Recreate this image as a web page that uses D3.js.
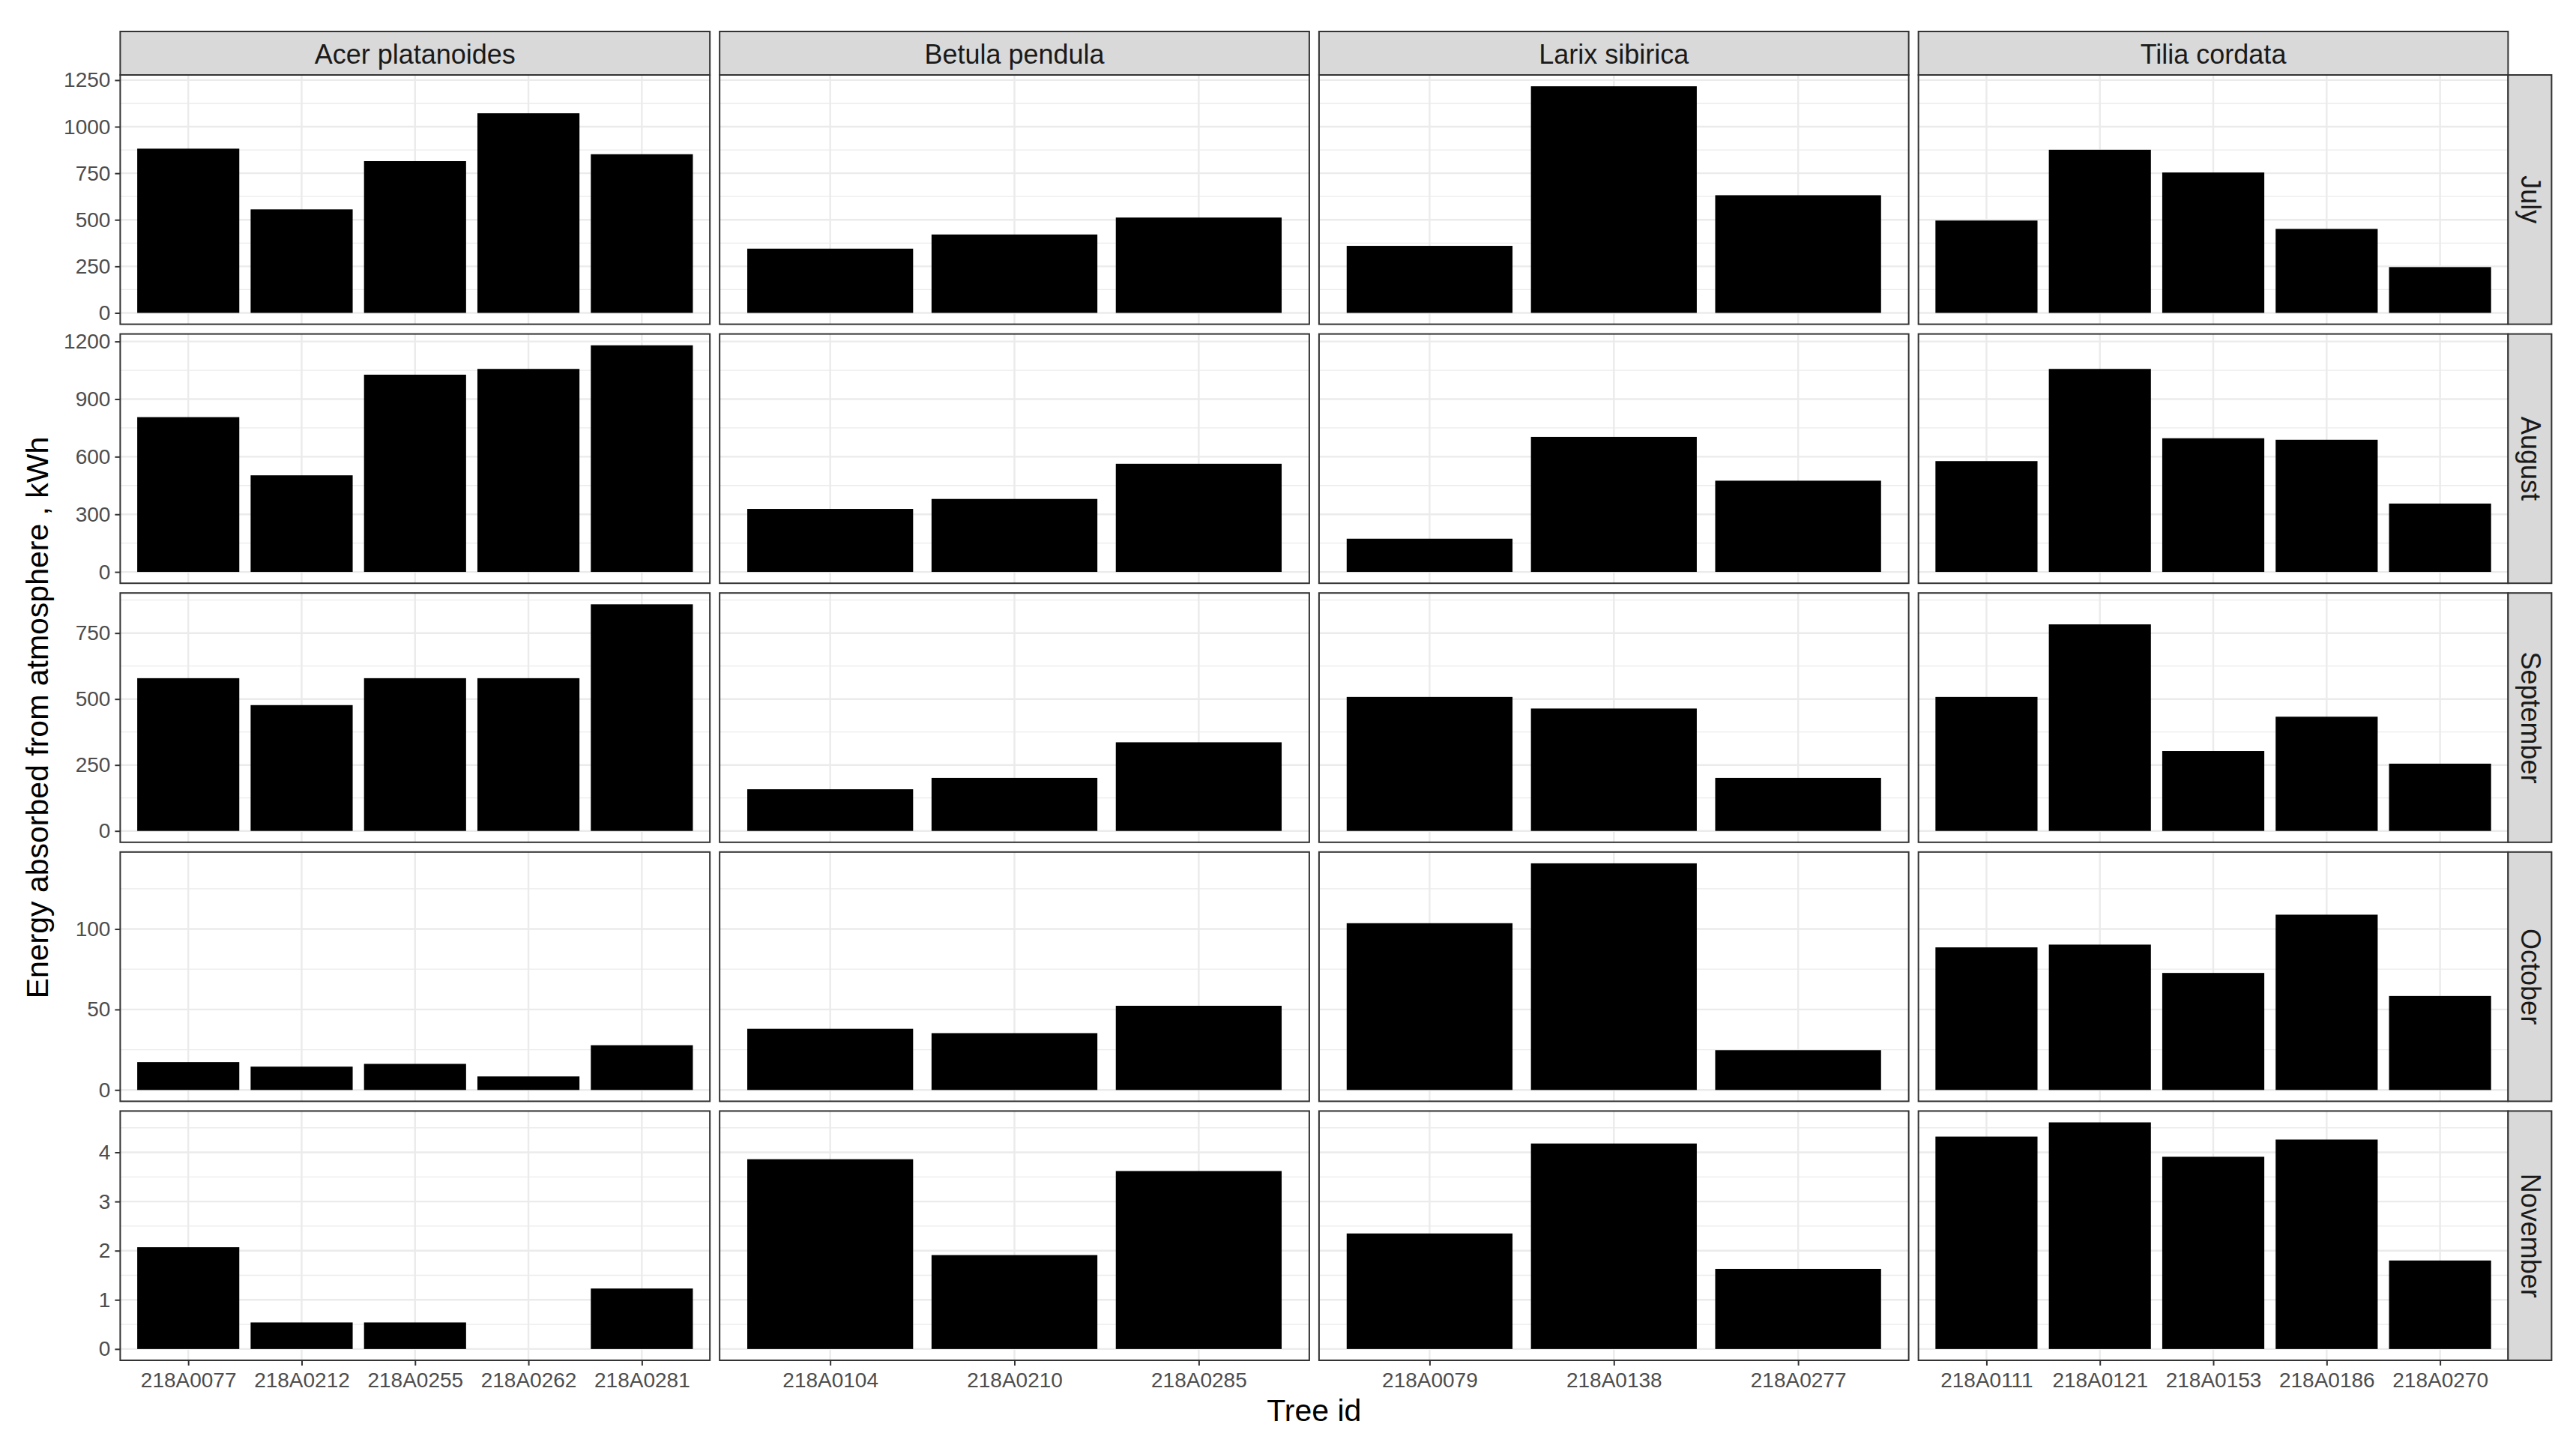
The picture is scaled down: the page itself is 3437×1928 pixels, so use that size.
<!DOCTYPE html>
<html>
<head>
<meta charset="utf-8">
<script src="https://cdn.jsdelivr.net/npm/d3@7"></script>
<style>
  html, body { margin: 0; padding: 0; background: #ffffff; }
  svg { display: block; font-family: "Liberation Sans", Arial, Helvetica, sans-serif; }
</style>
</head>
<body>
<svg id="chart" width="3437" height="1928"></svg>
<script>
// ---------------- DATA ----------------
const species = ["Acer platanoides", "Betula pendula", "Larix sibirica", "Tilia cordata"];
const months = ["July", "August", "September", "October", "November"];

const acerIds   = ["218A0077", "218A0212", "218A0255", "218A0262", "218A0281"];
const betulaIds = ["218A0104", "218A0210", "218A0285"];
const larixIds  = ["218A0079", "218A0138", "218A0277"];
const tiliaIds  = ["218A0111", "218A0121", "218A0153", "218A0186", "218A0270"];

// rows = months (July..November), columns = tree ids of the species
const acerValues = [
  [882, 556, 815, 1072, 852],
  [806, 503, 1027, 1057, 1180],
  [579, 477, 579, 579, 859],
  [17.3, 14.5, 16.2, 8.4, 27.8],
  [2.07, 0.54, 0.54, 0, 1.23]
];
const betulaValues = [
  [345, 421, 512],
  [328, 380, 563],
  [158, 201, 336],
  [38, 35.3, 52.3],
  [3.86, 1.91, 3.62]
];
const larixValues = [
  [360, 1217, 632],
  [173, 703, 475],
  [508, 464, 201],
  [103.6, 140.8, 24.7],
  [2.35, 4.18, 1.63]
];
const tiliaValues = [
  [496, 876, 754, 451, 246],
  [577, 1057, 696, 688, 356],
  [508, 783, 303, 433, 255],
  [88.6, 90.3, 72.7, 108.9, 58.4],
  [4.32, 4.61, 3.91, 4.26, 1.80]
];

const julyTicks      = [0, 250, 500, 750, 1000, 1250];
const augustTicks    = [0, 300, 600, 900, 1200];
const septemberTicks = [0, 250, 500, 750];
const octoberTicks   = [0, 50, 100];
const novemberTicks  = [0, 1, 2, 3, 4];

const xTitle = "Tree id";
const yTitle = "Energy absorbed from atmosphere , kWh";

// ---------------- LAYOUT ----------------
const idsBySpecies = [acerIds, betulaIds, larixIds, tiliaIds];
const valuesBySpecies = [acerValues, betulaValues, larixValues, tiliaValues];
const ticksByMonth = [julyTicks, augustTicks, septemberTicks, octoberTicks, novemberTicks];

const plotLeft = 160.4, plotRight = 3346.4, gapX = 13;
const plotTop = 100, plotBottom = 1815, gapY = 13;
const stripSize = 58;
const panelW = (plotRight - plotLeft - 3 * gapX) / 4;
const panelH = (plotBottom - plotTop - 4 * gapY) / 5;

const tickFont = 28, stripFont = 36, titleFont = 41;
const borderCol = "#333333", gridCol = "#EBEBEB";

const svg = d3.select("#chart");
svg.append("rect").attr("width", 3437).attr("height", 1928).attr("fill", "#ffffff");

// y scales per row (shared across columns, free between rows), ggplot 5% expansion
const yScales = months.map((m, r) => {
  const M = d3.max(valuesBySpecies, vals => d3.max(vals[r]));
  return d3.scaleLinear().domain([-0.05 * M, 1.05 * M]).range([panelH, 0]);
});

species.forEach((sp, c) => {
  const x0 = plotLeft + c * (panelW + gapX);
  const ids = idsBySpecies[c];
  const xs = d3.scalePoint().domain(ids).range([0, panelW]).padding(0.6);
  const bw = xs.step() * 0.9;

  // top strip
  const strip = svg.append("g").attr("transform", `translate(${x0},${plotTop - stripSize})`);
  strip.append("rect").attr("width", panelW).attr("height", stripSize)
    .attr("fill", "#D9D9D9").attr("stroke", borderCol).attr("stroke-width", 2);
  strip.append("text").attr("x", panelW / 2).attr("y", stripSize / 2 + 1)
    .attr("text-anchor", "middle").attr("dominant-baseline", "central")
    .attr("font-size", stripFont).attr("fill", "#1A1A1A").text(sp);

  months.forEach((mo, r) => {
    const y0 = plotTop + r * (panelH + gapY);
    const ys = yScales[r];
    const ticks = ticksByMonth[r];
    const step = ticks[1] - ticks[0];
    const [d0, d1] = ys.domain();
    const minors = d3.range(ticks[0] - step / 2, d1, step).filter(v => v > d0 && v < d1);

    const g = svg.append("g").attr("transform", `translate(${x0},${y0})`);
    g.append("rect").attr("width", panelW).attr("height", panelH).attr("fill", "#ffffff");

    // grid
    g.selectAll(".minor").data(minors).enter().append("line")
      .attr("x1", 0).attr("x2", panelW).attr("y1", d => ys(d)).attr("y2", d => ys(d))
      .attr("stroke", gridCol).attr("stroke-width", 1.3);
    g.selectAll(".majorY").data(ticks).enter().append("line")
      .attr("x1", 0).attr("x2", panelW).attr("y1", d => ys(d)).attr("y2", d => ys(d))
      .attr("stroke", gridCol).attr("stroke-width", 2.4);
    g.selectAll(".majorX").data(ids).enter().append("line")
      .attr("y1", 0).attr("y2", panelH).attr("x1", d => xs(d)).attr("x2", d => xs(d))
      .attr("stroke", gridCol).attr("stroke-width", 2.4);

    // bars
    const vals = valuesBySpecies[c][r];
    g.selectAll(".bar").data(ids.map((id, i) => ({ id, v: vals[i] }))).enter().append("rect")
      .attr("x", d => xs(d.id) - bw / 2)
      .attr("width", bw)
      .attr("y", d => ys(Math.max(0, d.v)))
      .attr("height", d => Math.abs(ys(0) - ys(d.v)))
      .attr("fill", "#000000");

    // border
    g.append("rect").attr("width", panelW).attr("height", panelH)
      .attr("fill", "none").attr("stroke", borderCol).attr("stroke-width", 2);

    // y axis on first column
    if (c === 0) {
      const ay = g.append("g").call(d3.axisLeft(ys).tickValues(ticks).tickSize(7).tickPadding(6).tickFormat(d3.format("d")));
      ay.select(".domain").remove();
      ay.selectAll("line").attr("stroke", borderCol).attr("stroke-width", 2);
      ay.selectAll("text").attr("font-size", tickFont).attr("fill", "#4D4D4D")
        .attr("font-family", "'Liberation Sans', Arial, sans-serif");
    }
    // x axis on last row
    if (r === months.length - 1) {
      const ax = g.append("g").attr("transform", `translate(0,${panelH})`)
        .call(d3.axisBottom(xs).tickSize(7).tickPadding(9));
      ax.select(".domain").remove();
      ax.selectAll("line").attr("stroke", borderCol).attr("stroke-width", 2);
      ax.selectAll("text").attr("font-size", tickFont).attr("fill", "#4D4D4D")
        .attr("font-family", "'Liberation Sans', Arial, sans-serif");
    }

    // right strip
    if (c === species.length - 1) {
      const rs = svg.append("g").attr("transform", `translate(${x0 + panelW},${y0})`);
      rs.append("rect").attr("width", stripSize).attr("height", panelH)
        .attr("fill", "#D9D9D9").attr("stroke", borderCol).attr("stroke-width", 2);
      rs.append("text")
        .attr("transform", `translate(${stripSize / 2 + 1},${panelH / 2}) rotate(90)`)
        .attr("text-anchor", "middle").attr("dominant-baseline", "central")
        .attr("font-size", stripFont).attr("fill", "#1A1A1A").text(mo);
    }
  });
});

// axis titles
svg.append("text").attr("x", (plotLeft + plotRight) / 2).attr("y", 1895.5)
  .attr("text-anchor", "middle").attr("font-size", titleFont).attr("fill", "#000").text(xTitle);
svg.append("text").attr("transform", `translate(64,${(plotTop + plotBottom) / 2}) rotate(-90)`)
  .attr("text-anchor", "middle").attr("font-size", titleFont).attr("fill", "#000").text(yTitle);
</script>
</body>
</html>
